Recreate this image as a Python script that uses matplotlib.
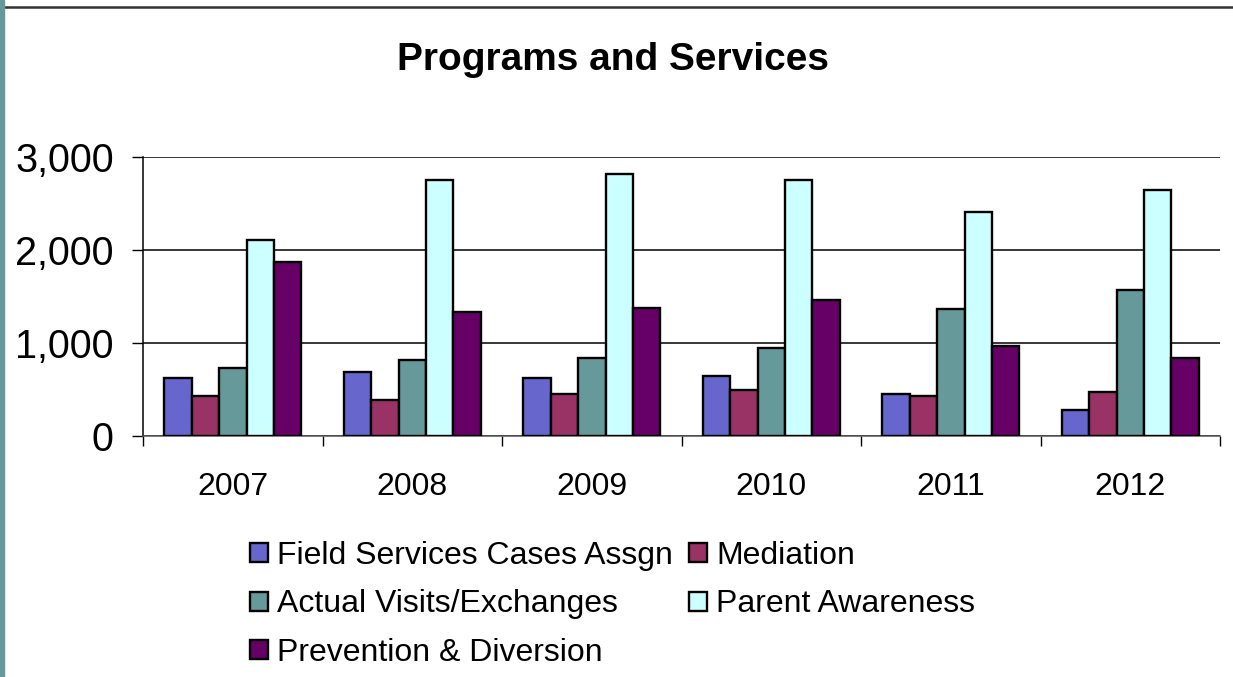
import numpy as np
import matplotlib
matplotlib.use("Agg")
import matplotlib.pyplot as plt
from matplotlib.lines import Line2D
from matplotlib.patches import Rectangle

plt.rcParams["font.family"] = ["Liberation Sans", "DejaVu Sans"]

# ---------------- DATA ----------------
years = ["2007", "2008", "2009", "2010", "2011", "2012"]
field_services = [620, 690, 625, 650, 455, 280]
mediation = [430, 385, 450, 495, 430, 470]
visits = [730, 815, 840, 945, 1370, 1570]
parent_awareness = [2105, 2750, 2815, 2750, 2410, 2645]
prevention = [1870, 1330, 1375, 1460, 965, 840]

series = [
    ("Field Services Cases Assgn", field_services, "#6666CC"),
    ("Mediation", mediation, "#993366"),
    ("Actual Visits/Exchanges", visits, "#669999"),
    ("Parent Awareness", parent_awareness, "#CCFFFF"),
    ("Prevention & Diversion", prevention, "#660066"),
]

# ---------------- FIGURE ----------------
fig = plt.figure(figsize=(12.33, 6.77), dpi=100)
ax = fig.add_axes([0.116, 0.356, 0.8735, 0.412])

x = np.arange(len(years))
bw = 0.153
handles = {}
for i, (name, vals, col) in enumerate(series):
    bars = ax.bar(x + (i - 2) * bw, vals, width=bw, color=col,
                  edgecolor="black", linewidth=1.7, label=name, zorder=3)
    handles[name] = bars

ax.set_xlim(-0.5, len(years) - 0.5)
ax.set_ylim(0, 3000)
ax.set_yticks([0, 1000, 2000, 3000])
ax.set_yticklabels(["0", "1,000", "2,000", "3,000"])
ax.grid(axis="y", color="black", linewidth=1.1, zorder=0)

ax.set_xticks(x)
ax.set_xticklabels(years)
ax.set_xticks(np.arange(len(years) + 1) - 0.5, minor=True)
ax.tick_params(axis="x", which="major", length=0, labelsize=23, pad=26)
ax.tick_params(axis="x", which="minor", length=7, width=1, direction="out")
ax.tick_params(axis="y", length=8, width=1, labelsize=28.5, pad=13)

for side in ["top", "right"]:
    ax.spines[side].set_visible(False)
ax.spines["left"].set_linewidth(1.1)
ax.spines["bottom"].set_linewidth(1.1)
ax.spines["bottom"].set_color("#555555")

fig.text(0.497, 0.912, "Programs and Services", ha="center", va="center",
         fontsize=28, fontweight="bold")

# legend: rows F/M, A/P, Prev -> column-wise order
order = ["Field Services Cases Assgn", "Actual Visits/Exchanges",
         "Prevention & Diversion", "Mediation", "Parent Awareness"]
fig.legend([handles[n] for n in order], order, ncol=2,
           loc="upper left", bbox_to_anchor=(0.203, 0.201),
           frameon=False, fontsize=23, handlelength=0.55, handleheight=0.55,
           handletextpad=0.3, columnspacing=0.5, labelspacing=0.58,
           borderaxespad=0, borderpad=0)

# slide decoration: teal bar on the left, dark line on top
fig.patches.append(Rectangle((0, 0), 4 / 1233, 1, transform=fig.transFigure,
                             color="#669999", zorder=5))
fig.lines.append(Line2D([4 / 1233, 1], [1 - 7 / 677, 1 - 7 / 677],
                        transform=fig.transFigure, color="#333333",
                        linewidth=1.8))

fig.savefig("out.png", dpi=100)
